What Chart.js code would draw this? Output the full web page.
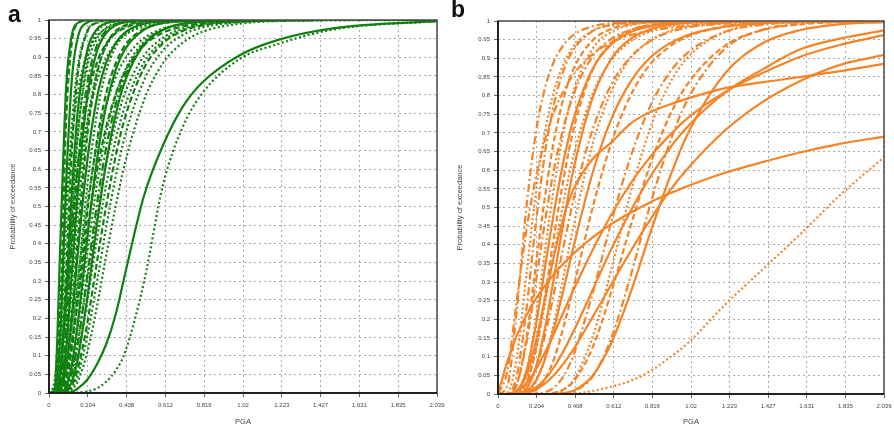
<!DOCTYPE html>
<html>
<head>
<meta charset="utf-8">
<script src="https://cdn.jsdelivr.net/npm/chart.js@4/dist/chart.umd.min.js"></script>
<style>
  html, body { margin: 0; padding: 0; background: #fff; }
  #wrap { position: relative; width: 894px; height: 429px; }
  .panel { position: absolute; top: 0; width: 447px; height: 429px; }
</style>
</head>
<body>
<div id="wrap">
  <div class="panel" style="left:0"><canvas id="chartA" width="447" height="429"></canvas></div>
  <div class="panel" style="left:447px"><canvas id="chartB" width="447" height="429"></canvas></div>
</div>
<script>
// ---- axis ticks ----
const pgaTickValues = [0, 0.2039, 0.4078, 0.6117, 0.8156, 1.0195, 1.2234, 1.4273, 1.6312, 1.8351, 2.039];
const pgaTicks = ['0', '0.204', '0.408', '0.612', '0.816', '1.02', '1.223', '1.427', '1.631', '1.835', '2.039'];
const probTicks = [0, 0.05, 0.1, 0.15, 0.2, 0.25, 0.3, 0.35, 0.4, 0.45, 0.5, 0.55, 0.6, 0.65, 0.7, 0.75, 0.8, 0.85, 0.9, 0.95, 1];

// ---- panel a: PGA sample points and exceedance probabilities ----
const pgaA = [0, 0.03, 0.06, 0.09, 0.12, 0.15, 0.2, 0.25, 0.3, 0.35, 0.4, 0.5, 0.6, 0.7, 0.8, 1.0, 1.2, 1.5, 2.039];
const a01 = [0,0.013,0.41,0.82,0.96,0.992,0.999,1,1,1,1,1,1,1,1,1,1,1,1];
const a02 = [0,0.001,0.23,0.73,0.94,0.99,0.999,1,1,1,1,1,1,1,1,1,1,1,1];
const a03 = [0,0.002,0.16,0.56,0.84,0.95,0.993,0.999,1,1,1,1,1,1,1,1,1,1,1];
const a04 = [0,0.002,0.125,0.45,0.72,0.87,0.97,0.992,0.998,1,1,1,1,1,1,1,1,1,1];
const a05 = [0,0,0.055,0.33,0.65,0.85,0.967,0.993,0.999,1,1,1,1,1,1,1,1,1,1];
const a06 = [0,0,0.052,0.27,0.54,0.75,0.917,0.974,0.992,0.997,0.999,1,1,1,1,1,1,1,1];
const a07 = [0,0,0.027,0.19,0.46,0.68,0.89,0.966,0.989,0.997,0.999,1,1,1,1,1,1,1,1];
const a08 = [0,0,0.027,0.167,0.39,0.6,0.826,0.929,0.971,0.988,0.995,0.999,1,1,1,1,1,1,1];
const a09 = [0,0,0.014,0.117,0.32,0.53,0.79,0.913,0.965,0.986,0.994,0.999,1,1,1,1,1,1,1];
const a10 = [0,0,0.017,0.113,0.284,0.472,0.715,0.856,0.929,0.965,0.983,0.995,0.999,1,1,1,1,1,1];
const a11 = [0,0,0.006,0.065,0.212,0.405,0.685,0.851,0.933,0.97,0.986,0.997,0.999,1,1,1,1,1,1];
const a12 = [0,0,0.009,0.07,0.2,0.367,0.618,0.786,0.885,0.938,0.967,0.99,0.997,0.999,1,1,1,1,1];
const a13 = [0,0,0.003,0.038,0.138,0.288,0.549,0.743,0.862,0.927,0.962,0.989,0.997,0.999,1,1,1,1,1];
const a14 = [0,0,0.003,0.034,0.117,0.245,0.48,0.67,0.802,0.883,0.932,0.976,0.992,0.997,0.999,1,1,1,1];
const a15 = [0,0,0.001,0.017,0.075,0.181,0.41,0.618,0.77,0.865,0.922,0.974,0.992,0.997,0.999,1,1,1,1];
const a16 = [0,0,0.002,0.023,0.081,0.175,0.369,0.552,0.695,0.797,0.866,0.942,0.974,0.988,0.995,0.999,1,1,1];
const a17 = [0,0,0.001,0.012,0.052,0.127,0.31,0.5,0.656,0.773,0.851,0.938,0.974,0.989,0.995,0.999,1,1,1];
const a18 = [0,0,0,0.005,0.03,0.088,0.251,0.445,0.616,0.746,0.837,0.935,0.974,0.99,0.996,0.999,1,1,1];
const a19 = [0,0,0.001,0.009,0.039,0.097,0.242,0.407,0.556,0.678,0.771,0.887,0.944,0.972,0.986,0.996,0.999,1,1];
const a20 = [0,0,0,0.004,0.021,0.062,0.184,0.345,0.5,0.634,0.739,0.872,0.938,0.97,0.985,0.996,0.999,1,1];
const a21 = [0,0,0,0.002,0.015,0.046,0.149,0.291,0.443,0.579,0.69,0.839,0.919,0.959,0.979,0.994,0.998,1,1];
const a22 = [0,0,0,0.001,0.009,0.03,0.107,0.227,0.367,0.5,0.618,0.786,0.885,0.938,0.967,0.99,0.997,0.999,1];
const a23 = [0,0.034,0.25,0.5,0.684,0.802,0.908,0.955,0.977,0.988,0.994,0.998,0.999,1,1,1,1,1,1];
const a24 = [0,0.004,0.08,0.251,0.442,0.603,0.783,0.883,0.936,0.964,0.979,0.993,0.997,0.999,1,1,1,1,1];
const a25 = [0,0,0.014,0.074,0.176,0.3,0.5,0.659,0.77,0.846,0.896,0.952,0.977,0.989,0.994,0.998,0.999,1,1];
const a26 = [0,0,0,0,0.003,0.012,0.035,0.075,0.13,0.21,0.32,0.53,0.665,0.765,0.83,0.905,0.946,0.978,0.997];
const a27 = [0,0,0,0,0,0.001,0.004,0.012,0.03,0.06,0.11,0.3,0.56,0.71,0.8,0.895,0.935,0.975,0.997];
const a28 = [0,0.005,0.079,0.23,0.397,0.546,0.726,0.834,0.898,0.937,0.96,0.983,0.992,0.996,0.998,0.999,1,1,1];
const a29 = [0,0,0.009,0.052,0.136,0.242,0.432,0.591,0.712,0.8,0.862,0.932,0.966,0.982,0.991,0.997,0.999,1,1];
const a30 = [0,0,0.002,0.017,0.061,0.136,0.3,0.468,0.614,0.722,0.805,0.905,0.953,0.976,0.988,0.996,0.999,1,1];
const a31 = [0,0.001,0.062,0.261,0.5,0.69,0.872,0.948,0.979,0.991,0.996,0.999,1,1,1,1,1,1,1];
const curvesA = [a01,a02,a03,a04,a05,a06,a07,a08,a09,a10,a11,a12,a13,a14,a15,a16,a17,a18,a19,a20,
                 a21,a22,a23,a24,a25,a26,a27,a28,a29,a30,a31];
const stylesA = ['solid','dash','solid','dot','dash','solid','dot','dashdot','solid','dot','dash','solid','dot','dash',
                 'solid','dot','dashdot','solid','dot','dash','dot','dot','dot','dash','dot','solid','dot',
                 'dot','dash','dot','dot'];

// ---- panel b ----
const pgaB = [0, 0.05, 0.1, 0.15, 0.2, 0.25, 0.3, 0.35, 0.4, 0.5, 0.6, 0.7, 0.8, 0.9, 1.0, 1.2, 1.4, 1.6, 1.8, 2.039];
const b01 = [0,0.063,0.255,0.438,0.581,0.685,0.761,0.816,0.858,0.911,0.943,0.962,0.974,0.981,0.987,0.993,0.996,0.997,0.998,0.999];
const b02 = [0,0.023,0.23,0.5,0.7,0.824,0.896,0.938,0.963,0.986,0.994,0.997,0.999,1,1,1,1,1,1,1];
const b03 = [0,0.004,0.1,0.319,0.54,0.709,0.819,0.889,0.932,0.974,0.989,0.995,0.998,0.999,1,1,1,1,1,1];
const b04 = [0,0.001,0.05,0.227,0.457,0.652,0.786,0.873,0.924,0.973,0.99,0.996,0.999,1,1,1,1,1,1,1];
const b05 = [0,0,0.026,0.149,0.345,0.536,0.69,0.8,0.873,0.948,0.979,0.991,0.996,0.998,0.999,1,1,1,1,1];
const b06 = [0,0,0.028,0.136,0.3,0.468,0.614,0.722,0.805,0.905,0.953,0.976,0.988,0.993,0.996,0.999,1,1,1,1];
const b07 = [0,0,0.005,0.059,0.2,0.39,0.568,0.712,0.813,0.926,0.971,0.989,0.996,0.998,1,1,1,1,1,1];
const b08 = [0,0,0.007,0.062,0.184,0.345,0.5,0.634,0.739,0.872,0.938,0.97,0.985,0.993,0.996,0.999,1,1,1,1];
const b09 = [0,0,0.002,0.029,0.119,0.268,0.436,0.587,0.712,0.869,0.942,0.975,0.989,0.995,0.998,1,1,1,1,1];
const b10 = [0,0,0.003,0.034,0.119,0.248,0.39,0.524,0.641,0.805,0.896,0.945,0.971,0.985,0.992,0.997,0.999,1,1,1];
const b11 = [0,0,0.001,0.014,0.071,0.181,0.325,0.472,0.605,0.794,0.9,0.952,0.977,0.989,0.995,0.999,1,1,1,1];
const b12 = [0,0,0.001,0.017,0.069,0.161,0.281,0.405,0.524,0.709,0.831,0.903,0.945,0.969,0.982,0.994,0.998,0.999,1,1];
const b13 = [0,0,0,0.005,0.032,0.097,0.2,0.325,0.452,0.67,0.813,0.9,0.946,0.972,0.985,0.996,0.999,1,1,1];
const b14 = [0,0,0,0.007,0.036,0.097,0.184,0.288,0.397,0.593,0.739,0.837,0.9,0.938,0.962,0.985,0.994,0.998,0.999,1];
const b15 = [0,0,0,0.001,0.011,0.042,0.1,0.187,0.288,0.5,0.675,0.8,0.881,0.929,0.958,0.986,0.995,0.998,1,1];
const b16 = [0,0,0,0,0.001,0.005,0.019,0.051,0.106,0.27,0.464,0.635,0.767,0.857,0.914,0.971,0.99,0.997,0.999,1];
const b17 = [0,0,0,0,0,0,0.003,0.013,0.039,0.154,0.337,0.538,0.707,0.826,0.901,0.971,0.992,0.998,1,1];
const b18 = [0,0,0,0,0,0,0.004,0.013,0.034,0.125,0.276,0.449,0.61,0.739,0.83,0.934,0.976,0.991,0.997,0.999];
const b19 = [0,0,0,0,0,0,0,0.002,0.007,0.047,0.152,0.316,0.5,0.663,0.788,0.926,0.977,0.993,0.998,1];
const b20 = [0,0,0,0,0,0,0,0.003,0.009,0.049,0.138,0.271,0.425,0.571,0.695,0.86,0.941,0.976,0.991,0.997];
const b21 = [0,0,0.001,0.005,0.017,0.041,0.075,0.119,0.169,0.279,0.39,0.49,0.579,0.654,0.716,0.808,0.871,0.925,0.952,0.975];
const b22 = [0,0,0.008,0.029,0.066,0.113,0.166,0.224,0.28,0.386,0.482,0.564,0.633,0.69,0.739,0.81,0.861,0.905,0.935,0.962];
const b23 = [0,0,0,0.003,0.012,0.029,0.053,0.084,0.121,0.206,0.295,0.382,0.464,0.54,0.603,0.707,0.784,0.84,0.881,0.909];
const b24 = [0,0,0.01,0.05,0.14,0.26,0.38,0.48,0.55,0.63,0.675,0.725,0.755,0.775,0.792,0.82,0.836,0.85,0.865,0.885];
const b25 = [0,0.088,0.157,0.211,0.255,0.291,0.324,0.352,0.377,0.42,0.456,0.486,0.513,0.536,0.557,0.593,0.622,0.648,0.67,0.69];
const b26 = [0,0,0,0,0,0,0,0,0.001,0.008,0.02,0.035,0.06,0.095,0.135,0.24,0.335,0.43,0.53,0.635];
const curvesB = [b01,b02,b03,b04,b05,b06,b07,b08,b09,b10,b11,b12,b13,b14,b15,b16,b17,b18,b19,b20,b21,b22,b23,b24,b25,b26];
const stylesB = ['dashdot','dashdot','dot','dashdot','dash','dashdot','dot','solid','dash','dot','solid','dashdot','dot',
                 'solid','dash','dashdot','dot','dash','dashdot','solid','solid','solid','solid','solid','solid','dot'];

// ---- drawing ----
const DASH = { solid: [], dot: [2, 2.5], dash: [6, 3], dashdot: [8, 3, 2, 3] };
const TICK_FONT = { family: '"Liberation Sans", Arial, sans-serif', size: 6 };
const TITLE_FONT = { family: '"Liberation Sans", Arial, sans-serif', size: 7.5 };
const TEXT_COLOR = '#444';
const GRID_COLOR = '#a8a8a8';

const framePlugin = {
  id: 'frame',
  afterDatasetsDraw(chart) {
    const { ctx, chartArea: a } = chart;
    ctx.save();
    ctx.strokeStyle = '#4a4a4a';
    ctx.lineWidth = 1.5;
    ctx.strokeRect(a.left, a.top, a.right - a.left, a.bottom - a.top);
    ctx.strokeStyle = '#222';
    ctx.lineWidth = 2;
    ctx.beginPath();
    ctx.moveTo(a.left, a.top);
    ctx.lineTo(a.left, a.bottom);
    ctx.lineTo(a.right, a.bottom);
    ctx.stroke();
    ctx.restore();
  },
  afterDraw(chart, args, opts) {
    const ctx = chart.ctx;
    ctx.save();
    ctx.fillStyle = '#111';
    ctx.font = 'bold 23px "Liberation Sans", Arial, sans-serif';
    ctx.textBaseline = 'alphabetic';
    ctx.fillText(opts.letter, opts.lx, opts.ly);
    ctx.restore();
  }
};

function buildChart(id, grid, curves, styles, color, box) {
  const datasets = curves.map((ys, i) => ({
    data: ys.map((y, k) => ({ x: grid[k], y: y })),
    borderColor: color,
    borderWidth: 2.2,
    borderDash: DASH[styles[i]],
    pointRadius: 0,
    cubicInterpolationMode: 'monotone',
    fill: false
  }));
  return new Chart(document.getElementById(id), {
    type: 'line',
    data: { datasets },
    plugins: [framePlugin],
    options: {
      responsive: false,
      animation: false,
      events: [],
      layout: { padding: { left: 0, top: box.top, right: box.right, bottom: 0 } },
      plugins: {
        legend: { display: false },
        tooltip: { enabled: false },
        frame: { letter: box.letter, lx: box.lx, ly: box.ly }
      },
      scales: {
        x: {
          type: 'linear', min: 0, max: 2.039,
          afterBuildTicks: s => { s.ticks = pgaTickValues.map(v => ({ value: v })); },
          afterFit: s => { s.height = box.xh; s.paddingLeft = 0; s.paddingRight = 0; },
          ticks: { callback: (v, i) => pgaTicks[i], font: TICK_FONT, color: TEXT_COLOR, padding: 5, maxRotation: 0, autoSkip: false },
          grid: { color: GRID_COLOR, lineWidth: 1, tickLength: 4, tickColor: '#666' },
          border: { display: false, dash: [2, 3] },
          title: { display: true, text: 'PGA', font: TITLE_FONT, color: TEXT_COLOR, padding: { top: 6, bottom: 3 } }
        },
        y: {
          type: 'linear', min: 0, max: 1,
          afterBuildTicks: s => { s.ticks = probTicks.map(v => ({ value: v })); },
          afterFit: s => { s.width = box.yw; s.paddingTop = 0; s.paddingBottom = 0; },
          ticks: { callback: (v, i) => String(probTicks[i]), font: TICK_FONT, color: TEXT_COLOR, padding: 4, autoSkip: false },
          grid: { color: GRID_COLOR, lineWidth: 1, tickLength: 4, tickColor: '#666' },
          border: { display: false, dash: [2, 3] },
          title: { display: true, text: 'Probability of exceedance', font: TITLE_FONT, color: TEXT_COLOR, padding: { top: 8, bottom: 4 } }
        }
      }
    }
  });
}

buildChart('chartA', pgaA, curvesA, stylesA, 'rgb(16,128,16)',
  { top: 20, right: 10, xh: 36, yw: 49, letter: 'a', lx: 8, ly: 22 });
buildChart('chartB', pgaB, curvesB, stylesB, 'rgb(245,132,40)',
  { top: 21, right: 10, xh: 35, yw: 51, letter: 'b', lx: 4, ly: 17 });
</script>
</body>
</html>
